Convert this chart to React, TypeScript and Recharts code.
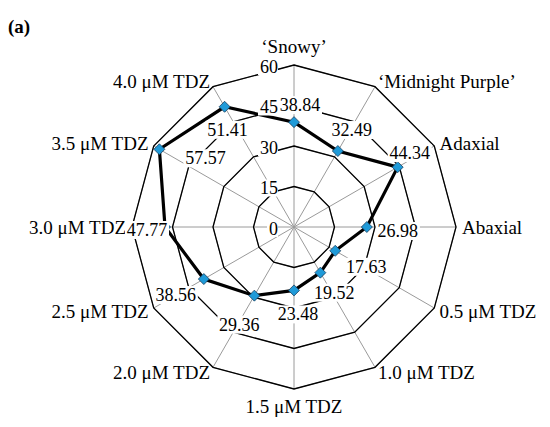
import React from "react";
import {
  LabelList,
  PolarAngleAxis,
  PolarGrid,
  PolarRadiusAxis,
  Radar,
  RadarChart
} from "recharts";

const categories = [
  "\u2018Snowy\u2019",
  "\u2018Midnight Purple\u2019",
  "Adaxial",
  "Abaxial",
  "0.5 \u03bcM TDZ",
  "1.0 \u03bcM TDZ",
  "1.5 \u03bcM TDZ",
  "2.0 \u03bcM TDZ",
  "2.5 \u03bcM TDZ",
  "3.0 \u03bcM TDZ",
  "3.5 \u03bcM TDZ",
  "4.0 \u03bcM TDZ"
];
const values = [38.84, 32.49, 44.34, 26.98, 17.63, 19.52, 23.48, 29.36, 38.56, 47.77, 57.57, 51.41];
const radiusTicks = [0, 15, 30, 45, 60];

// where each value label sits relative to its point (hand placed in the original)
const labelOffsets: [number, number][] = [
  [6, -17], [14, -21], [12, -14], [31, 4], [31, 16], [14, 20],
  [4, 24], [-15, 29], [-28, 16], [-18, 3], [46, 9], [3, 23]
];

const data = categories.map((name, i) => ({ name, value: values[i] }));

const FONT = "'Liberation Serif', 'Times New Roman', serif";
const FS = 18;

const AngleTick = (props: any) => {
  const { x, y, textAnchor, payload } = props;
  let dy = 0;
  if (textAnchor === "middle") {
    dy = y < 227 ? -13 : 11;
  }
  return (
    <text
      x={x}
      y={y + dy}
      textAnchor={textAnchor}
      dominantBaseline="central"
      fontFamily={FONT}
      fontSize={19}
      fill="#000"
    >
      {payload.value}
    </text>
  );
};

const RadiusTick = (props: any) => {
  const { x, y, payload } = props;
  const txt = String(payload.value);
  const w = txt.length * 9 + 2;
  return (
    <g>
      <rect x={x - 16 - w} y={y - 7} width={w} height={17} fill="#fff" />
      <text
        x={x - 16}
        y={y + 1.5}
        textAnchor="end"
        dominantBaseline="central"
        fontFamily={FONT}
        fontSize={FS}
        fill="#000"
      >
        {txt}
      </text>
    </g>
  );
};

const Diamond = (props: any) => {
  const { cx, cy } = props;
  const s = 5.5;
  return (
    <polygon
      points={`${cx},${cy - s} ${cx + s},${cy} ${cx},${cy + s} ${cx - s},${cy}`}
      fill="#1f9ad8"
      stroke="#1a3d5c"
      strokeWidth={0.8}
    />
  );
};

const ValueLabel = (props: any) => {
  const { x, y, value, index } = props;
  const [dx, dy] = labelOffsets[index] || [0, 0];
  const cxl = x + dx;
  const cyl = y + dy;
  const w = 44;
  return (
    <g>
      <rect x={cxl - w / 2} y={cyl - 9} width={w} height={18} fill="#fff" />
      <text
        x={cxl}
        y={cyl}
        textAnchor="middle"
        dominantBaseline="central"
        fontFamily={FONT}
        fontSize={FS}
        fill="#000"
      >
        {Number(value).toFixed(2)}
      </text>
    </g>
  );
};

export default function App() {
  return (
    <div style={{ position: "absolute", left: 0, top: 0, width: 550, height: 427, background: "#fff" }}>
      <div
        style={{
          position: "absolute",
          left: 8,
          top: 16,
          fontFamily: FONT,
          fontSize: 19,
          fontWeight: "bold",
          lineHeight: "22px"
        }}
      >
        (a)
      </div>
      <RadarChart
        width={550}
        height={427}
        data={data}
        cx={294}
        cy={227}
        outerRadius={162}
        margin={{ top: 0, right: 0, bottom: 0, left: 0 }}
      >
        <PolarGrid gridType="polygon" stroke="#9a9a9a" strokeWidth={1} />
        <PolarGrid gridType="polygon" radialLines={false} stroke="#000" strokeWidth={1.3} />
        <PolarAngleAxis
          dataKey="name"
          tick={<AngleTick />}
          tickLine={false}
          axisLine={false}
          tickSize={6}
        />
        <Radar
          dataKey="value"
          stroke="#000"
          strokeWidth={3.2}
          fill="none"
          fillOpacity={0}
          dot={<Diamond />}
          isAnimationActive={false}
        />
        {/* labels on their own layer so their white boxes sit over line and markers */}
        <Radar
          dataKey="value"
          stroke="none"
          fill="none"
          fillOpacity={0}
          dot={false}
          isAnimationActive={false}
        >
          <LabelList dataKey="value" content={<ValueLabel />} />
        </Radar>
        <PolarRadiusAxis
          angle={90}
          domain={[0, 60]}
          ticks={radiusTicks as any}
          tickCount={5}
          tick={<RadiusTick />}
          axisLine={false}
          tickLine={false}
        />
      </RadarChart>
    </div>
  );
}
